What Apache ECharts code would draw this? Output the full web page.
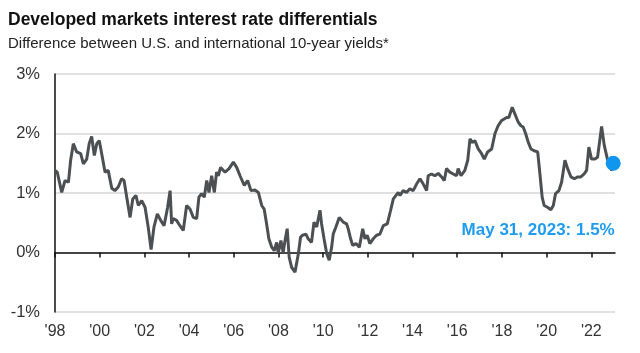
<!DOCTYPE html>
<html>
<head>
<meta charset="utf-8">
<script src="https://cdn.jsdelivr.net/npm/echarts@6/dist/echarts.min.js"></script>
<style>
    html, body { margin: 0; padding: 0; background: #fff; }
    #chart { width: 640px; height: 353px; }
</style>
</head>
<body>
<div id="chart"></div>
<script>
// dates as decimal years
var dates = [
    1998.00, 1998.10, 1998.30, 1998.45, 1998.60, 1998.70, 1998.82, 1998.97, 1999.15, 1999.27,
    1999.42, 1999.53, 1999.64, 1999.76, 1999.87, 1999.98, 2000.09, 2000.24, 2000.38, 2000.54,
    2000.68, 2000.83, 2000.98, 2001.09, 2001.21, 2001.36, 2001.48, 2001.62, 2001.73, 2001.88,
    2002.03, 2002.17, 2002.30, 2002.43, 2002.58, 2002.73, 2002.88, 2003.04, 2003.15, 2003.22,
    2003.29, 2003.44, 2003.59, 2003.74, 2003.89, 2004.04, 2004.19, 2004.34, 2004.44, 2004.56,
    2004.68, 2004.79, 2004.89, 2005.01, 2005.13, 2005.23, 2005.31, 2005.41, 2005.61, 2005.79,
    2005.98, 2006.13, 2006.28, 2006.47, 2006.62, 2006.77, 2006.95, 2007.10, 2007.25, 2007.36,
    2007.47, 2007.57, 2007.70, 2007.81, 2007.92, 2007.99, 2008.11, 2008.21, 2008.28, 2008.39,
    2008.48, 2008.59, 2008.74, 2008.81, 2008.89, 2008.99, 2009.08, 2009.23, 2009.33, 2009.48,
    2009.59, 2009.71, 2009.86, 2009.93, 2010.04, 2010.16, 2010.27, 2010.38, 2010.45, 2010.57,
    2010.72, 2010.90, 2011.05, 2011.12, 2011.23, 2011.32, 2011.47, 2011.62, 2011.77, 2011.87,
    2011.97, 2012.09, 2012.24, 2012.39, 2012.54, 2012.69, 2012.87, 2013.02, 2013.14, 2013.26,
    2013.36, 2013.44, 2013.58, 2013.73, 2013.88, 2014.03, 2014.18, 2014.33, 2014.48, 2014.63,
    2014.70, 2014.85, 2015.00, 2015.15, 2015.30, 2015.42, 2015.52, 2015.67, 2015.82, 2015.97,
    2016.04, 2016.17, 2016.34, 2016.47, 2016.57, 2016.67, 2016.79, 2016.94, 2017.09, 2017.21,
    2017.36, 2017.54, 2017.69, 2017.83, 2017.99, 2018.21, 2018.31, 2018.46, 2018.58, 2018.73,
    2018.85, 2018.95, 2019.06, 2019.18, 2019.30, 2019.44, 2019.60, 2019.70, 2019.80, 2019.89,
    2020.04, 2020.19, 2020.30, 2020.40, 2020.55, 2020.67, 2020.82, 2020.94, 2021.09, 2021.24,
    2021.39, 2021.53, 2021.68, 2021.79, 2021.89, 2022.01, 2022.16, 2022.28, 2022.46, 2022.58,
    2022.72, 2022.91, 2022.98
];
// U.S. minus international 10-year yield, %
var spread = [
    1.38, 1.35, 1.01, 1.21, 1.18, 1.55, 1.83, 1.69, 1.66, 1.49,
    1.57, 1.83, 1.95, 1.63, 1.83, 1.88, 1.66, 1.35, 1.38, 1.08,
    1.04, 1.10, 1.24, 1.21, 0.93, 0.59, 0.90, 0.96, 0.79, 0.87,
    0.76, 0.43, 0.05, 0.43, 0.65, 0.54, 0.45, 0.76, 1.04, 0.48,
    0.57, 0.54, 0.45, 0.37, 0.79, 0.73, 0.59, 0.57, 0.93, 0.99,
    0.93, 1.21, 1.01, 1.29, 1.01, 1.35, 1.29, 1.43, 1.35, 1.41,
    1.52, 1.43, 1.29, 1.13, 1.21, 1.04, 1.05, 1.01, 0.79, 0.73,
    0.48, 0.23, 0.09, 0.03, 0.17, -0.01, 0.20, 0.00, 0.17, 0.40,
    -0.08, -0.25, -0.33, -0.36, -0.02, 0.26, 0.29, 0.31, 0.23, 0.17,
    0.51, 0.43, 0.71, 0.48, 0.23, -0.02, -0.13, 0.09, 0.31, 0.43,
    0.59, 0.51, 0.48, 0.40, 0.23, 0.12, 0.15, 0.09, 0.40, 0.23,
    0.29, 0.15, 0.23, 0.29, 0.31, 0.45, 0.48, 0.71, 0.90, 0.96,
    1.01, 0.96, 1.04, 1.01, 1.07, 1.04, 1.15, 1.24, 1.15, 1.04,
    1.29, 1.32, 1.29, 1.33, 1.27, 1.21, 1.41, 1.35, 1.32, 1.29,
    1.41, 1.29, 1.38, 1.55, 1.91, 1.85, 1.88, 1.74, 1.66, 1.57,
    1.69, 1.74, 2.00, 2.13, 2.22, 2.27, 2.27, 2.44, 2.33, 2.19,
    2.13, 2.11, 2.00, 1.85, 1.74, 1.71, 1.69, 1.32, 0.93, 0.79,
    0.76, 0.72, 0.79, 0.99, 1.04, 1.18, 1.55, 1.41, 1.27, 1.24,
    1.27, 1.27, 1.32, 1.38, 1.77, 1.57, 1.57, 1.60, 2.12, 1.80,
    1.57, 1.38, 1.50
];
var tickYears = [1998, 2000, 2002, 2004, 2006, 2008, 2010, 2012, 2014, 2016, 2018, 2020, 2022];
var lastLabel = 'May 31, 2023: 1.5%';

var pts = dates.map(function (d, i) { return [d, spread[i]]; });
var last = pts[pts.length - 1];

var myChart = echarts.init(document.getElementById('chart'));
myChart.setOption({
    animation: false,
    backgroundColor: '#fff',
    textStyle: { fontFamily: 'Liberation Sans, Arial, sans-serif' },
    title: {
        text: 'Developed markets interest rate differentials',
        subtext: 'Difference between U.S. and international 10-year yields*',
        left: 3,
        top: 6,
        itemGap: 7,
        textStyle: { fontSize: 17.5, fontWeight: 'bold', color: '#111' },
        subtextStyle: { fontSize: 15, color: '#222' }
    },
    grid: { left: 55, right: 25, top: 74, bottom: 41 },
    xAxis: [
        {
            type: 'value',
            min: 1998,
            max: 2023.06,
            axisLine: { onZero: true, lineStyle: { color: '#111', width: 1.5 } },
            axisTick: { show: true, length: 5, lineStyle: { color: '#111', width: 1.5 }, customValues: tickYears },
            axisLabel: { show: false },
            splitLine: { show: false }
        },
        {
            type: 'value',
            position: 'bottom',
            min: 1998,
            max: 2023.06,
            axisLine: { show: false, onZero: false },
            axisTick: { show: false },
            splitLine: { show: false },
            axisLabel: {
                customValues: tickYears,
                margin: 12,
                fontSize: 16,
                color: '#333',
                formatter: function (v) { return "'" + String(v).slice(2); }
            }
        }
    ],
    yAxis: {
        type: 'value',
        min: -1,
        max: 3,
        interval: 1,
        axisLine: { show: true, lineStyle: { color: '#111', width: 1.5 } },
        axisTick: { show: false },
        axisLabel: { formatter: '{value}%', fontSize: 16.5, color: '#333', margin: 15 },
        splitLine: { lineStyle: { color: '#d6d6d6', width: 1.5 } }
    },
    series: [
        {
            type: 'line',
            data: pts,
            symbol: 'none',
            lineStyle: { color: '#4d5053', width: 3 },
            z: 3
        },
        {
            type: 'scatter',
            data: [last],
            symbolSize: 15,
            itemStyle: { color: '#0f96ee', opacity: 1 },
            label: {
                show: true,
                position: 'left',
                distance: 0,
                offset: [9, 67],
                formatter: lastLabel,
                color: '#1f9cf0',
                fontSize: 17,
                fontWeight: 'bold'
            },
            z: 4
        }
    ]
});
</script>
</body>
</html>
